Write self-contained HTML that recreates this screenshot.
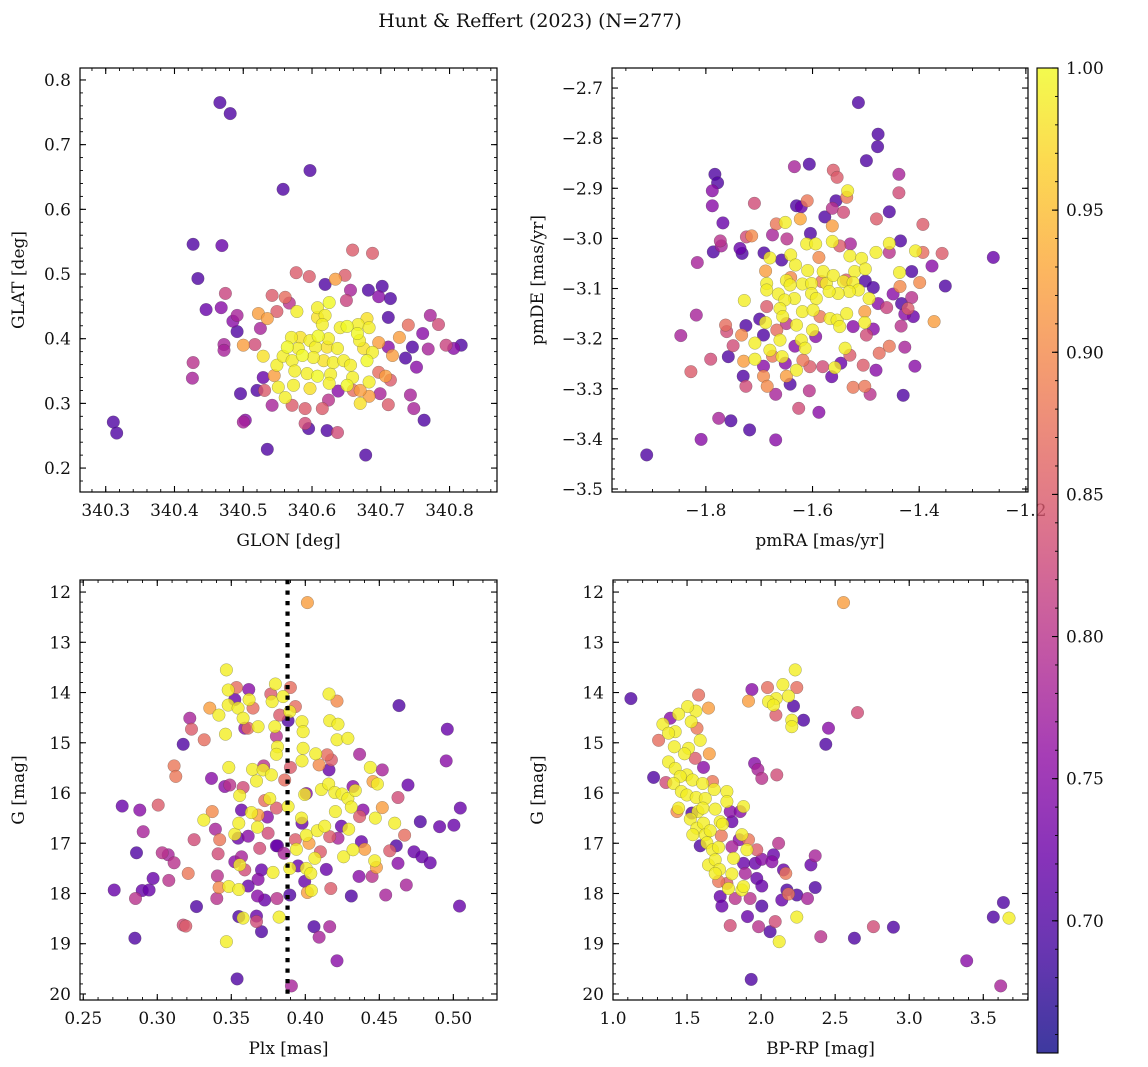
<!DOCTYPE html>
<html><head><meta charset="utf-8">
<style>
html,body{margin:0;padding:0;background:#fff;}
svg{display:block;font-family:"DejaVu Serif","Liberation Serif",serif;}
</style></head>
<body>
<svg id="fig" width="1148" height="1067" viewBox="0 0 1148 1067" xmlns="http://www.w3.org/2000/svg">
<rect width="1148" height="1067" fill="#fff"/>
<text x="530" y="27" text-anchor="middle" font-size="19" fill="#111">Hunt &amp; Reffert (2023) (N=277)</text>
</svg>
<script>
// ---------- Panel 1: GLON / GLAT ----------
const glon=[340.466,340.481,340.558,340.597,340.427,340.469,340.434,340.311,340.316,340.446,
340.474,340.468,340.427,340.426,340.535,340.678,340.491,340.485,340.491,340.472,
340.472,340.500,340.517,340.525,340.522,340.535,340.549,340.542,340.561,340.567,
340.577,340.596,340.619,340.634,340.648,340.656,340.650,340.659,340.688,340.682,
340.702,340.697,340.714,340.711,340.740,340.772,340.784,340.761,340.727,340.746,
340.769,340.795,340.806,340.817,340.736,340.752,340.717,340.711,340.697,340.697,
340.707,340.714,340.699,340.711,340.683,340.743,340.748,340.763,340.670,340.660,
340.638,340.624,340.615,340.622,340.637,340.590,340.571,340.542,340.590,340.595,
340.503,340.500,340.496,340.520,340.531,340.529,340.545,
340.578,340.608,340.625,340.619,340.608,340.615,340.641,340.651,340.667,340.680,
340.683,340.666,340.669,340.570,340.583,340.597,340.609,340.624,340.637,340.622,
340.605,340.580,340.564,340.529,340.549,340.558,340.571,340.586,340.602,340.617,
340.631,340.646,340.656,340.680,340.688,340.675,340.575,340.593,340.608,340.627,
340.597,340.625,340.659,340.651,340.683,340.670,340.573,340.551,340.561];
const glat=[0.765,0.748,0.631,0.660,0.546,0.544,0.493,0.271,0.254,0.445,
0.470,0.448,0.363,0.339,0.229,0.220,0.436,0.427,0.411,0.391,
0.382,0.390,0.391,0.416,0.439,0.431,0.442,0.467,0.464,0.455,
0.502,0.496,0.484,0.492,0.498,0.475,0.459,0.537,0.532,0.475,
0.481,0.465,0.462,0.433,0.421,0.436,0.422,0.408,0.402,0.387,
0.384,0.390,0.385,0.390,0.370,0.356,0.374,0.387,0.394,0.348,
0.342,0.336,0.315,0.298,0.311,0.313,0.292,0.274,0.320,0.320,
0.319,0.305,0.292,0.258,0.255,0.292,0.297,0.297,0.269,0.261,
0.274,0.271,0.315,0.320,0.320,0.340,0.343,
0.442,0.448,0.456,0.436,0.433,0.422,0.417,0.419,0.422,0.431,
0.417,0.408,0.397,0.402,0.402,0.397,0.404,0.400,0.385,0.387,
0.387,0.385,0.387,0.373,0.359,0.373,0.366,0.374,0.371,0.366,
0.363,0.366,0.359,0.366,0.379,0.385,0.350,0.346,0.342,0.345,
0.323,0.331,0.340,0.328,0.333,0.300,0.328,0.325,0.309];
const prob1=[.70,.70,.70,.70,.70,.72,.70,.70,.70,.72,
.82,.75,.80,.78,.70,.70,.78,.75,.70,.78,
.78,.92,.83,.78,.92,.92,.85,.85,.87,.80,
.85,.85,.70,.92,.85,.78,.82,.85,.85,.70,
.70,.75,.70,.70,.87,.78,.83,.75,.92,.70,
.78,.82,.75,.70,.70,.75,.92,.75,.92,.87,
.92,.85,.78,.85,.92,.78,.78,.70,.92,.87,
.75,.80,.85,.70,.83,.85,.85,.78,.83,.70,
.75,.78,.70,.70,.85,.72,.92,
.99,.99,1.0,.99,.98,.99,.99,1.0,.99,.98,
.99,1.0,.99,.99,.98,.99,1.0,.99,.99,.98,
.99,.99,1.0,.98,.99,.99,.99,1.0,.99,.98,
.99,.99,.99,1.0,.99,.98,.99,.99,1.0,.99,
.98,.99,.99,1.0,.99,.98,.99,.99,.99];

// ---------- Panel 2: pmRA / pmDE ----------
const pmra=[-1.514,-1.477,-1.478,-1.499,-1.634,-1.606,-1.561,-1.554,-1.438,-1.438,
-1.534,-1.536,-1.783,-1.778,-1.788,-1.788,-1.768,-1.709,-1.630,-1.621,
-1.610,-1.556,-1.563,-1.542,-1.577,-1.623,-1.651,-1.668,-1.563,-1.456,
-1.480,-1.393,-1.773,-1.786,-1.771,-1.816,-1.724,-1.714,-1.675,-1.648,
-1.604,-1.611,-1.594,-1.563,-1.529,-1.549,-1.456,-1.435,-1.481,-1.456,
-1.407,-1.393,-1.357,-1.261,-1.376,-1.414,-1.437,-1.351,-1.736,-1.732,
-1.691,-1.680,-1.658,-1.641,-1.632,-1.588,-1.530,-1.508,-1.521,-1.501,
-1.688,-1.609,-1.580,-1.686,-1.686,-1.664,-1.649,-1.642,-1.641,-1.619,
-1.602,-1.583,-1.574,-1.561,-1.542,-1.537,-1.524,-1.501,-1.486,-1.514,
-1.531,-1.552,-1.569,-1.602,-1.593,-1.634,-1.652,-1.728,-1.818,-1.847,
-1.763,-1.761,-1.725,-1.699,-1.688,-1.692,-1.733,-1.686,-1.661,-1.656,
-1.667,-1.649,-1.630,-1.619,-1.599,-1.586,-1.567,-1.554,-1.549,-1.536,
-1.524,-1.502,-1.502,-1.494,-1.477,-1.461,-1.449,-1.433,-1.414,-1.421,
-1.427,-1.411,-1.434,-1.372,-1.436,-1.399,-1.708,-1.680,-1.749,-1.661,
-1.621,-1.614,-1.633,-1.600,-1.594,-1.539,-1.530,-1.499,-1.486,-1.791,
-1.758,-1.729,-1.708,-1.692,-1.675,-1.657,-1.651,-1.630,-1.618,-1.605,
-1.581,-1.558,-1.547,-1.564,-1.505,-1.481,-1.475,-1.456,-1.427,-1.408,
-1.828,-1.730,-1.725,-1.692,-1.685,-1.649,-1.642,-1.669,-1.606,-1.524,
-1.502,-1.492,-1.430,-1.626,-1.588,-1.776,-1.753,-1.718,-1.809,-1.669,
-1.911];
const pmde=[-2.729,-2.792,-2.817,-2.845,-2.857,-2.852,-2.864,-2.878,-2.872,-2.909,
-2.905,-2.918,-2.872,-2.889,-2.905,-2.935,-2.969,-2.930,-2.935,-2.937,
-2.925,-2.925,-2.940,-2.948,-2.957,-2.961,-2.968,-2.971,-2.975,-2.947,
-2.961,-2.972,-3.005,-3.027,-3.015,-3.048,-2.997,-2.995,-2.993,-3.001,
-2.990,-3.011,-3.011,-3.006,-3.011,-3.015,-3.010,-3.005,-3.028,-3.028,
-3.025,-3.028,-3.030,-3.038,-3.055,-3.066,-3.068,-3.095,-3.020,-3.030,
-3.029,-3.039,-3.043,-3.033,-3.053,-3.038,-3.035,-3.040,-3.066,-3.061,
-3.065,-3.064,-3.066,-3.090,-3.103,-3.111,-3.084,-3.093,-3.078,-3.091,
-3.090,-3.086,-3.090,-3.074,-3.086,-3.083,-3.088,-3.085,-3.098,-3.103,
-3.106,-3.110,-3.106,-3.110,-3.120,-3.120,-3.123,-3.124,-3.153,-3.194,
-3.173,-3.186,-3.174,-3.161,-3.168,-3.193,-3.193,-3.136,-3.140,-3.156,
-3.183,-3.170,-3.173,-3.146,-3.143,-3.156,-3.160,-3.163,-3.176,-3.150,
-3.176,-3.146,-3.168,-3.120,-3.130,-3.138,-3.111,-3.130,-3.118,-3.140,
-3.151,-3.156,-3.175,-3.166,-3.096,-3.088,-3.209,-3.223,-3.214,-3.203,
-3.203,-3.219,-3.215,-3.183,-3.196,-3.219,-3.233,-3.193,-3.181,-3.241,
-3.236,-3.245,-3.241,-3.255,-3.235,-3.236,-3.249,-3.263,-3.243,-3.256,
-3.256,-3.258,-3.249,-3.276,-3.253,-3.263,-3.229,-3.215,-3.217,-3.255,
-3.266,-3.275,-3.295,-3.275,-3.295,-3.275,-3.291,-3.311,-3.304,-3.297,
-3.295,-3.311,-3.313,-3.339,-3.347,-3.359,-3.364,-3.382,-3.401,-3.402,
-3.432];
const prob2=[.70,.70,.70,.70,.78,.70,.85,.85,.78,.83,
.99,.88,.70,.70,.75,.75,.72,.83,.70,.72,
.88,.70,.80,.83,.70,.93,.99,.88,.92,.70,
.85,.85,.80,.70,.78,.78,.83,.90,.78,.80,
.70,.99,.99,.99,.78,.85,.99,.70,.99,.80,
.99,.87,.85,.72,.75,.70,.99,.70,.72,.70,
.70,.99,.70,.99,.99,.90,.99,.99,.99,.99,
.92,.99,.99,.99,.99,.99,.99,.99,.90,.99,
.99,.88,.99,.99,.99,.85,.99,.70,.70,.99,
.99,.99,.99,.99,.99,.99,.99,.99,.78,.78,
.87,.83,.70,.70,.99,.70,.90,.85,.99,.99,
.87,.80,.99,.99,.99,.88,.99,.99,.99,.99,
.75,.92,.99,.99,.75,.82,.75,.70,.80,.85,
.75,.72,.80,.92,.90,.90,.99,.99,.83,.99,
.99,.99,.75,.99,.75,.99,.85,.83,.75,.83,
.70,.92,.99,.75,.88,.99,.75,.99,.88,.85,
.83,.99,.72,.72,.85,.75,.87,.88,.78,.75,
.85,.70,.83,.90,.90,.92,.70,.78,.80,.88,
.88,.80,.70,.83,.75,.78,.70,.70,.75,.75,
.70];

// ---------- Panel 3: Plx / G ----------
const plx=[0.4014,0.3467,0.3479,0.3535,0.3618,0.3620,0.3524,0.3479,0.3546,0.3580,
0.3647,0.3355,0.3416,0.3461,0.3220,0.3231,0.3317,0.3175,0.3591,0.3613,
0.3681,0.3767,0.3798,0.3776,0.3850,0.3899,0.3933,0.3895,0.3827,0.3884,
0.3794,0.3805,0.3978,0.3985,0.4160,0.4214,0.4165,0.4221,0.4214,0.4288,
0.4633,0.4959,0.4952,0.3812,0.3805,0.3985,0.3978,0.4070,0.4147,0.4176,
0.4093,0.4160,0.4367,0.4439,0.4520,0.4457,0.4487,0.4694,0.4626,0.5047,
0.3114,0.3125,0.3366,0.3483,0.3643,0.3719,0.3715,0.3771,0.3670,0.3861,
0.3899,0.3456,0.3490,0.3580,0.3557,0.3726,0.3760,0.3805,0.3884,0.3996,
0.4007,0.4109,0.4158,0.4199,0.4248,0.4288,0.4338,0.4322,0.4203,0.4311,
0.4367,0.4390,0.4473,0.4520,0.4604,0.4671,0.4777,0.4907,0.5004,0.2763,
0.2882,0.3006,0.2905,0.3249,0.3314,0.3371,0.3393,0.3422,0.3524,0.3551,
0.3569,0.3636,0.3677,0.3681,0.3744,0.3749,0.3614,0.3546,0.3692,0.3812,
0.3857,0.3933,0.3974,0.3978,0.4007,0.4025,0.4081,0.4131,0.4165,0.4221,
0.4293,0.4244,0.4379,0.4102,0.4064,0.3940,0.4259,0.4322,0.4401,0.4469,
0.4480,0.4570,0.4615,0.4734,0.4788,0.4844,0.4626,0.2860,0.3033,0.3074,
0.3114,0.3209,0.2972,0.3078,0.3411,0.3524,0.3569,0.3557,0.3591,0.3704,
0.3681,0.3782,0.3805,0.3895,0.3951,0.4007,0.4037,0.4142,0.3996,0.3406,
0.3418,0.3483,0.3551,0.3614,0.3677,0.3726,0.3809,0.3895,0.4014,0.4041,
0.4172,0.4311,0.4363,0.4451,0.4543,0.4682,0.2709,0.2898,0.2945,0.2853,
0.3402,0.3265,0.3551,0.3580,0.3670,0.3670,0.3823,0.3704,0.3175,0.3193,
0.2849,0.3467,0.4059,0.4165,0.4093,0.5042,0.4214,0.3539,0.3906];
const gmag3=[12.21,13.55,13.95,13.90,13.94,14.14,14.14,14.25,14.31,14.51,
14.31,14.31,14.45,14.83,14.51,14.73,14.94,15.03,14.71,14.71,
14.68,14.03,13.83,14.18,14.08,13.90,14.28,14.38,14.45,14.56,
14.68,14.87,14.58,14.78,14.03,14.17,14.56,14.63,14.94,14.91,
14.26,14.73,15.36,15.08,15.23,15.11,15.36,15.22,15.24,15.34,
15.44,15.54,15.23,15.49,15.54,15.77,15.82,15.84,16.09,16.30,
15.46,15.67,15.71,15.49,15.53,15.46,15.54,15.64,15.76,15.74,
15.49,15.87,15.84,15.89,16.05,16.15,16.11,16.30,16.27,16.03,
16.01,15.93,15.82,15.99,16.02,16.11,15.95,15.87,16.37,16.28,
16.47,16.34,16.50,16.29,16.60,16.84,16.57,16.67,16.64,16.26,
16.34,16.24,16.77,16.93,16.54,16.37,16.72,16.93,16.82,16.60,
16.34,16.39,16.68,16.44,16.48,16.80,16.86,16.90,17.10,17.05,
17.20,16.93,16.50,16.60,16.84,17.00,16.75,16.66,16.87,16.90,
16.72,16.66,16.97,17.17,17.30,17.12,17.27,17.13,17.12,17.35,
17.48,17.15,17.05,17.17,17.27,17.39,17.40,17.19,17.19,17.23,
17.39,17.60,17.70,17.74,17.21,17.37,17.27,17.43,17.53,17.53,
17.72,17.58,17.05,17.50,17.45,17.50,17.60,17.52,17.76,17.65,
17.88,17.86,17.92,17.85,18.05,18.13,18.10,18.03,17.98,17.94,
17.90,18.05,17.66,17.66,18.03,17.83,17.93,17.94,17.93,18.10,
18.10,18.26,18.46,18.49,18.45,18.56,18.47,18.76,18.63,18.65,
18.89,18.96,18.66,18.66,18.87,18.25,19.34,19.70,19.84];
const prob3=[.92,.99,.99,.87,.75,.99,.72,.99,.99,.99,
.87,.92,.99,.99,.78,.85,.87,.70,.75,.87,
.99,.85,.99,.99,.99,.87,.87,.99,.85,.70,
.99,.80,.99,.99,.99,.90,.99,.99,.99,.99,
.70,.72,.75,.99,.99,.99,.99,.99,.87,.85,
.90,.72,.78,.99,.78,.92,.99,.72,.83,.72,
.88,.88,.75,.99,.99,.80,.99,.99,.99,.87,
.85,.75,.80,.83,.99,.87,.99,.85,.99,.99,
.75,.99,.99,.99,.99,.99,.99,.75,.99,.99,
.85,.75,.99,.92,.99,.87,.70,.72,.72,.72,
.75,.85,.78,.83,.99,.90,.78,.88,.99,.99,
.72,.99,.99,.92,.75,.83,.75,.72,.83,.72,
.78,.85,.99,.72,.99,.92,.99,.99,.85,.78,
.99,.72,.72,.85,.99,.99,.99,.99,.92,.99,
.92,.85,.70,.72,.72,.72,.75,.70,.80,.78,
.80,.88,.72,.80,.83,.75,.78,.99,.83,.72,
.75,.99,.72,.99,.72,.99,.99,.72,.72,.80,
.90,.99,.99,.72,.75,.72,.80,.70,.92,.99,
.85,.70,.75,.80,.78,.78,.72,.72,.72,.80,
.80,.70,.70,.99,.72,.83,.99,.70,.83,.85,
.70,.99,.70,.78,.78,.72,.75,.70,.78];
const plxRef=[0.388];

// ---------- Panel 4: BP-RP / G ----------
const bprp=[2.556,2.230,2.147,2.043,2.241,1.938,2.185,2.102,2.050,1.915,
2.084,2.219,2.100,2.207,2.207,2.286,2.651,2.455,2.437,1.121,
1.578,1.645,1.560,1.504,1.443,1.387,1.337,1.528,1.567,1.420,
1.375,1.308,1.589,1.510,1.414,1.650,1.483,1.375,1.555,1.611,
1.420,1.499,1.537,1.454,1.274,1.357,1.409,1.605,1.672,1.683,
1.769,1.461,1.499,1.562,1.623,1.769,1.881,1.956,1.978,2.005,
2.106,1.443,1.432,1.533,1.573,1.607,1.690,1.791,1.859,1.803,
1.522,1.566,1.611,1.724,1.740,1.539,1.623,1.656,1.731,1.870,
1.852,1.915,1.589,1.634,1.672,1.713,1.803,1.904,1.971,1.814,
1.881,1.960,2.005,1.645,1.690,1.719,1.803,1.690,1.713,1.769,
1.893,1.971,2.005,1.780,1.870,1.881,1.825,1.926,1.724,1.735,
2.005,2.118,2.084,2.073,2.151,2.167,2.365,2.336,2.365,2.174,
2.185,2.241,2.140,2.313,2.241,2.095,2.061,2.122,1.908,1.791,
1.983,2.403,2.630,2.758,2.893,3.636,3.568,3.674,3.388,3.618,
1.933];
const gmag4=[12.21,13.55,13.84,13.90,13.90,13.94,14.07,14.12,14.18,14.17,
14.25,14.27,14.45,14.55,14.68,14.55,14.40,14.71,15.03,14.12,
14.05,14.31,14.37,14.28,14.43,14.51,14.63,14.58,14.71,14.78,
14.81,14.95,14.95,15.11,15.08,15.22,15.22,15.38,15.31,15.49,
15.51,15.64,15.74,15.67,15.69,15.79,15.81,15.81,15.77,15.93,
15.97,15.97,16.04,16.09,16.11,16.17,16.27,15.41,15.53,15.71,
15.64,16.30,16.37,16.40,16.37,16.30,16.32,16.37,16.37,16.57,
16.52,16.70,16.60,16.57,16.62,16.83,16.83,16.75,16.85,16.83,
16.93,16.93,17.05,16.99,17.13,17.08,17.07,17.13,17.13,17.30,
17.40,17.40,17.32,17.43,17.33,17.52,17.61,17.60,17.76,17.80,
17.60,17.70,17.85,17.90,17.93,17.86,18.10,18.10,18.06,18.25,
18.25,17.00,17.23,17.37,17.53,17.60,17.25,17.43,17.88,17.93,
18.01,18.03,18.13,18.10,18.47,18.56,18.76,18.96,18.46,18.64,
18.66,18.86,18.89,18.66,18.67,18.18,18.47,18.49,19.34,19.84,
19.71];
const prob4=[.92,.99,.99,.87,.87,.75,.99,.99,.99,.92,
.99,.70,.85,.99,.99,.70,.83,.75,.70,.70,
.87,.92,.99,.99,.99,.75,.99,.99,.88,.99,
.99,.87,.99,.99,.99,.92,.99,.99,.85,.75,
.99,.99,.99,.99,.70,.83,.99,.99,.88,.99,
.99,.99,.99,.99,.99,.99,.99,.75,.78,.80,
.83,.99,.90,.70,.99,.99,.99,.75,.75,.72,
.99,.99,.99,.99,.99,.99,.99,.99,.88,.99,
.75,.88,.70,.99,.99,.99,.78,.99,.85,.99,
.72,.72,.75,.99,.99,.99,.99,.99,.88,.85,
.78,.72,.72,.99,.99,.99,.80,.80,.72,.72,
.70,.80,.72,.75,.72,.88,.78,.72,.70,.70,
.88,.70,.72,.78,.99,.83,.70,.99,.72,.83,
.80,.80,.70,.83,.70,.70,.70,.99,.75,.78,
.70];

// ---------- Axis tick definitions ----------
const p1xTicks=["340.3","340.4","340.5","340.6","340.7","340.8"];
const p1yTicks=["0.2","0.3","0.4","0.5","0.6","0.7","0.8"];
const p2xTicks=["-1.8","-1.6","-1.4","-1.2"];
const p2yTicks=["-2.7","-2.8","-2.9","-3.0","-3.1","-3.2","-3.3","-3.4","-3.5"];
const p3xTicks=["0.25","0.30","0.35","0.40","0.45","0.50"];
const gTicks=["12","13","14","15","16","17","18","19","20"];
const p4xTicks=["1.0","1.5","2.0","2.5","3.0","3.5"];
const cbTicks=["0.70","0.75","0.80","0.85","0.90","0.95","1.00"];

const NS="http://www.w3.org/2000/svg";
const svg=document.getElementById('fig');
const FS=17;
function mk(tag,attrs,parent){const e=document.createElementNS(NS,tag);for(const k in attrs)e.setAttribute(k,attrs[k]);(parent||svg).appendChild(e);return e;}
const plasma=["#0d0887","#41049d","#6a00a8","#8f0da4","#b12a90","#cc4778","#e16462","#f2844b","#fca636","#fcce25","#f0f921"];
function hex(h){return [parseInt(h.slice(1,3),16),parseInt(h.slice(3,5),16),parseInt(h.slice(5,7),16)];}
function cmap(t){t=Math.max(0,Math.min(1,t));const s=t*10,i=Math.min(9,Math.floor(s)),f=s-i;const a=hex(plasma[i]),b=hex(plasma[i+1]);return 'rgb('+a.map((v,k)=>Math.round(v+(b[k]-v)*f)).join(',')+')';}
const VMIN=0.6535,VMAX=1.0;
function norm(p){return (p-VMIN)/(VMAX-VMIN);}
function fmt(s){return s.replace('-','\u2212');}

function panel(cfg){
  const g=mk('g',{});
  
  
  const sx=v=>cfg.x0+(v-cfg.xl)/(cfg.xr-cfg.xl)*(cfg.x1-cfg.x0);
  const sy=v=>cfg.y0+(v-cfg.yt)/(cfg.yb-cfg.yt)*(cfg.y1-cfg.y0);
  const idx=cfg.xs.map((_,i)=>i).sort((a,b)=>cfg.ps[a]-cfg.ps[b]);
  const pg=mk('g',{},g);
  
  
  idx.forEach(i=>{
    const c=mk('circle',{cx:sx(cfg.xs[i]).toFixed(1),cy:sy(cfg.ys[i]).toFixed(1),r:6.3,fill:cmap(norm(cfg.ps[i])),'fill-opacity':0.8,stroke:'rgba(60,60,60,0.45)','stroke-width':0.5},pg);
    
    
  });
  if(cfg.vline){cfg.vline.forEach(v=>{const l=mk('line',{x1:sx(v),x2:sx(v),y1:cfg.y0,y2:cfg.y1,stroke:'#000','stroke-width':4.2,'stroke-dasharray':'4.2,6.3'},g);
    
    });}
  const fr=mk('rect',{x:cfg.x0,y:cfg.y0,width:cfg.x1-cfg.x0,height:cfg.y1-cfg.y0,fill:'none',stroke:'#000','stroke-width':1.2},g);
  
  
  const tk=mk('g',{stroke:'#000','stroke-width':0.9},g);
  
  
  for(let i=Math.ceil(Math.min(cfg.xl,cfg.xr)/cfg.xm-1e-6);i*cfg.xm<=Math.max(cfg.xl,cfg.xr)+1e-9;i++){const X=sx(i*cfg.xm);
    mk('line',{x1:X,x2:X,y1:cfg.y1,y2:cfg.y1-3},tk);mk('line',{x1:X,x2:X,y1:cfg.y0,y2:cfg.y0+3},tk);}
  const ylo=Math.min(cfg.yt,cfg.yb),yhi=Math.max(cfg.yt,cfg.yb);
  for(let i=Math.ceil(ylo/cfg.ym-1e-6);i*cfg.ym<=yhi+1e-9;i++){const Y=sy(i*cfg.ym);
    mk('line',{x1:cfg.x0,x2:cfg.x0+3,y1:Y,y2:Y},tk);mk('line',{x1:cfg.x1,x2:cfg.x1-3,y1:Y,y2:Y},tk);}
  cfg.xt.forEach(s=>{const X=sx(parseFloat(s));
    mk('line',{x1:X,x2:X,y1:cfg.y1,y2:cfg.y1-6,'stroke-width':1.1},tk);mk('line',{x1:X,x2:X,y1:cfg.y0,y2:cfg.y0+6,'stroke-width':1.1},tk);
    const t=mk('text',{x:X,y:cfg.y1+24,'text-anchor':'middle','font-size':FS,fill:'#111'},g);t.textContent=fmt(s);
    
    });
  cfg.yt2.forEach(s=>{const Y=sy(parseFloat(s));
    mk('line',{x1:cfg.x0,x2:cfg.x0+6,y1:Y,y2:Y,'stroke-width':1.1},tk);mk('line',{x1:cfg.x1,x2:cfg.x1-6,y1:Y,y2:Y,'stroke-width':1.1},tk);
    const t=mk('text',{x:cfg.x0-9,y:Y+6,'text-anchor':'end','font-size':FS,fill:'#111'},g);t.textContent=fmt(s);
    
    });
  const xl=mk('text',{x:(cfg.x0+cfg.x1)/2,y:cfg.y1+54,'text-anchor':'middle','font-size':FS,fill:'#111'},g);xl.textContent=cfg.xlab;
  
  
  const yx=cfg.ylabX,yy=(cfg.y0+cfg.y1)/2;
  const yl=mk('text',{x:yx,y:yy,'text-anchor':'middle','font-size':FS,fill:'#111',transform:'rotate(-90 '+yx+' '+yy+')'},g);yl.textContent=cfg.ylab;
  
  
}

panel({name:'glon-glat-panel',x0:80,x1:497,y0:68,y1:492,xl:340.2626,xr:340.869,yt:0.8185,yb:0.163,xm:0.02,ym:0.02,
  xs:glon,ys:glat,ps:prob1,xt:p1xTicks,yt2:p1yTicks,xlab:'GLON [deg]',ylab:'GLAT [deg]',ylabX:24});
panel({name:'pm-panel',x0:612,x1:1028,y0:68,y1:492,xl:-1.976,xr:-1.196,yt:-2.66,yb:-3.506,xm:0.05,ym:0.02,
  xs:pmra,ys:pmde,ps:prob2,xt:p2xTicks,yt2:p2yTicks,xlab:'pmRA [mas/yr]',ylab:'pmDE [mas/yr]',ylabX:543});
panel({name:'plx-g-panel',x0:80,x1:497,y0:580,y1:1000,xl:0.2478,xr:0.5295,yt:11.76,yb:20.12,xm:0.01,ym:0.2,
  xs:plx,ys:gmag3,ps:prob3,xt:p3xTicks,yt2:gTicks,xlab:'Plx [mas]',ylab:'G [mag]',ylabX:24,vline:plxRef});
panel({name:'cmd-panel',x0:613,x1:1028,y0:580,y1:1000,xl:1.0,xr:3.802,yt:11.76,yb:20.12,xm:0.1,ym:0.2,
  xs:bprp,ys:gmag4,ps:prob4,xt:p4xTicks,yt2:gTicks,xlab:'BP-RP [mag]',ylab:'G [mag]',ylabX:543});

// ---------- Colorbar ----------
(function(){
  const x0=1037,x1=1058,y0=68,y1=1053;
  const g=mk('g',{});
  
  
  const defs=mk('defs',{},g);
  const lg=mk('linearGradient',{id:'cbg',x1:0,y1:1,x2:0,y2:0},defs);
  for(let i=0;i<=20;i++){mk('stop',{offset:(i/20),'stop-color':cmap(i/20),'stop-opacity':0.8},lg);}
  mk('rect',{x:x0,y:y0,width:x1-x0,height:y1-y0,fill:'url(#cbg)'},g);
  mk('rect',{x:x0,y:y0,width:x1-x0,height:y1-y0,fill:'none',stroke:'#000','stroke-width':1.1},g);
  const sy=v=>y1-(v-VMIN)/(VMAX-VMIN)*(y1-y0);
  for(let i=66;i<=100;i++){const v=i/100;if(v<VMIN)continue;const Y=sy(v);mk('line',{x1:x1,x2:x1-3,y1:Y,y2:Y,stroke:'#000','stroke-width':0.9},g);}
  cbTicks.forEach(s=>{const Y=sy(parseFloat(s));mk('line',{x1:x1,x2:x1-6,y1:Y,y2:Y,stroke:'#000','stroke-width':1.1},g);
    const t=mk('text',{x:x1+8,y:Y+6,'font-size':FS,fill:'#111'},g);t.textContent=s;
    
    });
})();
</script>
</body></html>
